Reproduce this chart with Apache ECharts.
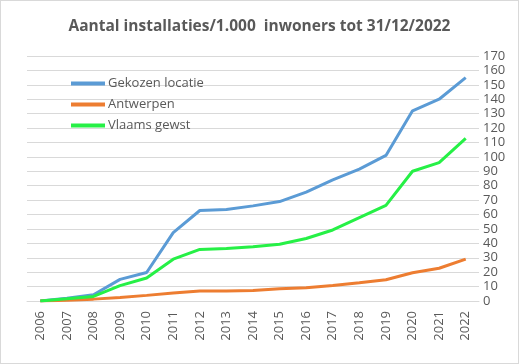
<!DOCTYPE html>
<html><head><meta charset="utf-8">
<script src="https://cdn.jsdelivr.net/npm/echarts@6/dist/echarts.min.js"></script>
<style>html,body{margin:0;padding:0;background:#fff}#c{width:517px;height:362px;border:1px solid #d9d9d9}</style>
</head><body><div id="c"></div>
<script>
const years = ['2006','2007','2008','2009','2010','2011','2012','2013','2014','2015','2016','2017','2018','2019','2020','2021','2022'];
const gekozen = [0,2,4.3,15,19.8,47.5,62.8,63.5,66,69,75.5,84,91.5,101,132,140,155];
const antwerpen = [0,0.5,1.3,2.4,3.9,5.5,6.9,7,7.3,8.5,9.2,10.8,12.6,14.7,19.6,22.7,29.1];
const vlaams = [0,1.5,3.2,10.7,16,29,35.8,36.5,37.6,39.4,43.4,49.3,57.8,66.3,90,96,112.9];
const yTicks = {min:0, max:170, interval:10};
const names = ['Gekozen locatie','Antwerpen','Vlaams gewst'];
const colors = ['#5b9bd5','#ed7d31','#26f046'];
const font = 'Open Sans, Liberation Sans, sans-serif';
const chart = echarts.init(document.getElementById('c'), null, {renderer:'canvas'});
chart.setOption({
  animation:false,
  title:{text:'Aantal installaties/1.000  inwoners tot 31/12/2022',left:'center',top:13,
    textStyle:{fontFamily:font,fontSize:15.5,fontWeight:'bold',color:'#595959'}},
  legend:{orient:'vertical',left:65,top:71,itemWidth:34,itemHeight:4,itemGap:8,icon:'rect',
    data:names,textStyle:{fontFamily:font,fontSize:13,color:'#595959',padding:[0,0,0,-2]}},
  grid:{left:26,right:39,top:55,bottom:62,containLabel:false},
  xAxis:{type:'category',data:years,boundaryGap:true,
    axisLine:{show:true,lineStyle:{color:'#d9d9d9'}},axisTick:{show:false},
    axisLabel:{rotate:90,fontFamily:font,fontSize:13,color:'#595959',margin:10}},
  yAxis:{type:'value',position:'right',min:yTicks.min,max:yTicks.max,interval:yTicks.interval,
    axisLine:{show:false},axisTick:{show:false},
    splitLine:{lineStyle:{color:'#d9d9d9',width:1}},
    axisLabel:{fontFamily:font,fontSize:13,color:'#595959',margin:4,align:'left'}},
  series:[gekozen,antwerpen,vlaams].map((d,i)=>({
    name:names[i],type:'line',data:d,symbol:'none',
    lineStyle:{color:colors[i],width:3},itemStyle:{color:colors[i]}
  }))
});
</script></body></html>
